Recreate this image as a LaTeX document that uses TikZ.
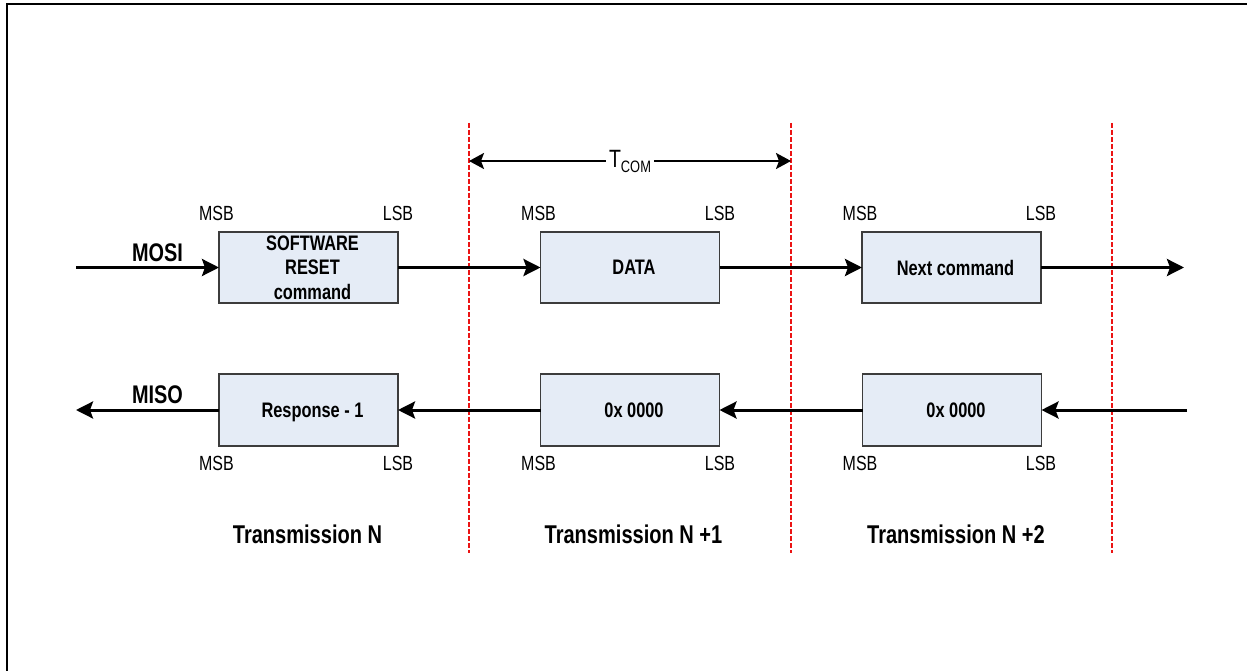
\documentclass[tikz,border=0pt]{standalone}
\usepackage{fontspec}
\setmainfont{Liberation Sans}[FakeStretch=0.78]
\usetikzlibrary{arrows.meta}
\definecolor{boxfill}{RGB}{229,236,246}
\definecolor{sepred}{RGB}{235,20,20}
\definecolor{boxline}{RGB}{60,60,60}
\newcommand{\myfs}[2]{\fontsize{#1}{#2}\selectfont}
\newcommand{\bx}[1]{\hspace*{8pt}#1}
\begin{document}
\begin{tikzpicture}[x=1pt,y=-1pt,
  blk/.style={draw=boxline, line width=1.3pt, fill=boxfill, minimum width=179pt,
    minimum height=71pt, inner sep=0pt, outer sep=0pt, align=center,
    font=\bfseries\myfs{21}{24.5}, text depth=0pt},
  bit/.style={font=\myfs{20.5}{21}, inner sep=0pt, anchor=base},
  sig/.style={line width=3pt, -{Stealth[length=17pt,width=17pt,inset=3pt]}},
  dim/.style={line width=2pt, {Stealth[length=15pt,width=16pt,inset=3pt]}-{Stealth[length=15pt,width=16pt,inset=3pt]}},
  sepline/.style={sepred, line width=1.5pt, dash pattern=on 5pt off 2pt},
  lbl/.style={font=\bfseries\myfs{25.7}{27}, inner sep=0pt, anchor=base},
  sig name/.style={font=\bfseries\myfs{25.5}{27}, inner sep=0pt, anchor=base}
]
\useasboundingbox (0,0) rectangle (1247,671);
\fill[white] (0,0) rectangle (1247,671);
% frame
\draw[line width=2pt] (6.7,671) -- (6.7,4.3) -- (1247,4.3);

% separators
\coordinate (s1t) at (469,123); \coordinate (s1b) at (469,553);
\coordinate (s2t) at (791,123); \coordinate (s2b) at (791,553);
\coordinate (s3t) at (1112,123); \coordinate (s3b) at (1112,553);
\draw[sepline] (s1t) -- (s1b);
\draw[sepline] (s2t) -- (s2b);
\draw[sepline] (s3t) -- (s3b);

% boxes
\node[blk] (b1) at (308.5,267.5) {\bx{SOFTWARE}\\\bx{RESET}\\\bx{command}};
\node[blk] (b2) at (630,267.5) {\bx{DATA}};
\node[blk] (b3) at (951.5,267.5) {\bx{Next command}};
\node[blk, minimum height=72pt] (b4) at (308.5,410) {\bx{Response - 1}};
\node[blk, minimum height=72pt] (b5) at (630,410) {\bx{0x 0000}};
\node[blk, minimum height=72pt] (b6) at (952,410) {\bx{0x 0000}};

% MSB/LSB labels
\node[bit] (m1) at (216.5,220) {MSB};
\node[bit] (l1) at (398,220) {LSB};
\node[bit] (m2) at (538.5,220) {MSB};
\node[bit] (l2) at (720,220) {LSB};
\node[bit] (m3) at (860,220) {MSB};
\node[bit] (l3) at (1041,220) {LSB};
\node[bit] (m4) at (216.5,470) {MSB};
\node[bit] (l4) at (398,470) {LSB};
\node[bit] (m5) at (538.5,470) {MSB};
\node[bit] (l5) at (720,470) {LSB};
\node[bit] (m6) at (860,470) {MSB};
\node[bit] (l6) at (1041,470) {LSB};

% signal names
\node[sig name] (mosi) at (157.5,261) {MOSI};
\node[sig name] (miso) at (157.5,403) {MISO};

% MOSI chain
\coordinate (mosiS) at (76,267.5);
\coordinate (mosiE) at (1184,267.5);
\draw[sig] (mosiS) -- (b1.west);
\draw[sig] (b1.east) -- (b2.west);
\draw[sig] (b2.east) -- (b3.west);
\draw[sig] (b3.east) -- (mosiE);

% MISO chain
\coordinate (misoS) at (1187,410);
\coordinate (misoE) at (76,410);
\draw[sig] (misoS) -- (b6.east);
\draw[sig] (b6.west) -- (b5.east);
\draw[sig] (b5.west) -- (b4.east);
\draw[sig] (b4.west) -- (misoE);

% T_COM
\coordinate (tA) at (469,161);
\coordinate (tB) at (791,161);
\draw[dim] (tA) -- node[fill=white, inner xsep=3pt, inner ysep=2pt, font=\myfs{25}{25}] (tcom) {T\raisebox{-5pt}{\myfs{16.5}{16.5}COM}} (tB);

% transmission labels
\node[lbl] (t0) at (307.5,543) {Transmission N};
\node[lbl] (t1) at (633.5,543) {Transmission N +1};
\node[lbl] (t2) at (956,543) {Transmission N +2};
\end{tikzpicture}
\end{document}
